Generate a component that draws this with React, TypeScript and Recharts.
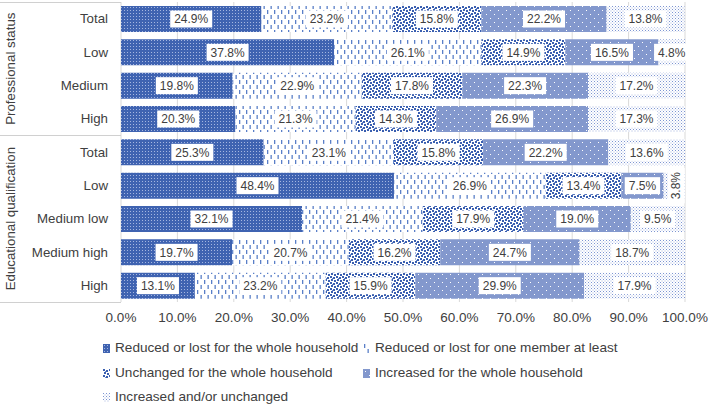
import React from 'react';
import { BarChart, Bar, XAxis, YAxis, CartesianGrid, LabelList, Legend } from 'recharts';

const categories = ['Total', 'Low', 'Medium', 'High', 'Total', 'Low', 'Medium low', 'Medium high', 'High'];
const groupNames = ['Professional status', 'Educational qualification'];
const groupSizes = [4, 5];

const reducedWhole = [24.9, 37.8, 19.8, 20.3, 25.3, 48.4, 32.1, 19.7, 13.1];
const reducedOne = [23.2, 26.1, 22.9, 21.3, 23.1, 26.9, 21.4, 20.7, 23.2];
const unchangedWhole = [15.8, 14.9, 17.8, 14.3, 15.8, 13.4, 17.9, 16.2, 15.9];
const increasedWhole = [22.2, 16.5, 22.3, 26.9, 22.2, 7.5, 19.0, 24.7, 29.9];
const increasedUnchanged = [13.8, 4.8, 17.2, 17.3, 13.6, 3.8, 9.5, 18.7, 17.9];

const seriesNames = [
  'Reduced or lost for the whole household',
  'Reduced or lost for one member at least',
  'Unchanged for the whole household',
  'Increased for the whole household',
  'Increased and/or unchanged',
];
const xTicks = [0, 10, 20, 30, 40, 50, 60, 70, 80, 90, 100];

const series = [reducedWhole, reducedOne, unchangedWhole, increasedWhole, increasedUnchanged];
const keys = ['s0', 's1', 's2', 's3', 's4'];
const patternIds = ['patA', 'patB', 'patC', 'patD', 'patE'];

const data = categories.map((c, i) => {
  const row: Record<string, any> = { id: `r${i}`, name: c };
  series.forEach((s, k) => (row[keys[k]] = s[i]));
  return row;
});

const FONT = '"Liberation Sans", Arial, Helvetica, sans-serif';
const TEXT = '#404040';
const LABEL_SIZE = 12;

// Arial-ish width estimate for the label boxes
const textWidth = (t: string, size: number) =>
  t.split('').reduce((w, ch) => w + (ch === '.' ? 0.278 : ch === '%' ? 0.889 : 0.556) * size, 0);

const SegmentLabel = (props: any) => {
  const vb = props.viewBox || {};
  const x = props.x ?? vb.x;
  const y = props.y ?? vb.y;
  const width = props.width ?? vb.width;
  const height = props.height ?? vb.height;
  const value = props.value;
  if (value == null || x == null) return null;
  const txt = `${Number(value).toFixed(1)}%`;
  const bw = textWidth(txt, LABEL_SIZE) + 8;
  const bh = 17;
  const rotated = width < 24;
  const cx = x + width / 2 + (rotated ? 2 : 0);
  const cy = y + height / 2;
  return (
    <g transform={rotated ? `rotate(-90, ${cx}, ${cy})` : undefined}>
      <rect x={cx - bw / 2} y={cy - bh / 2} width={bw} height={bh} fill="#fff" />
      <text x={cx} y={cy} dy="0.35em" textAnchor="middle" fontSize={LABEL_SIZE} fontFamily={FONT} fill={TEXT}>
        {txt}
      </text>
    </g>
  );
};

const CategoryTick = (props: any) => {
  const { x, y, index } = props;
  return (
    <text x={x - 5} y={y} dy="0.35em" textAnchor="end" fontSize={13.3} fontFamily={FONT} fill={TEXT}>
      {categories[index]}
    </text>
  );
};

const legendPos = [
  { x: 103, y: 12 },
  { x: 363, y: 12 },
  { x: 103, y: 37 },
  { x: 363, y: 37 },
  { x: 103, y: 61 },
];

const renderLegend = () => (
  <div style={{ position: 'relative', width: 709, height: 72, fontFamily: FONT, fontSize: 13.6, color: TEXT }}>
    {seriesNames.map((n, i) => (
      <div
        key={n}
        style={{
          position: 'absolute',
          left: legendPos[i].x,
          top: legendPos[i].y - 9,
          height: 18,
          lineHeight: '18px',
          whiteSpace: 'nowrap',
          display: 'flex',
          alignItems: 'center',
        }}
      >
        <svg width={8} height={9} style={{ marginRight: 4 }}>
          <rect x={0} y={0} width={7} height={9} fill={`url(#${patternIds[i]})`} />
        </svg>
        {n}
      </div>
    ))}
  </div>
);

const Patterns = () => (
  <svg width={0} height={0} style={{ position: 'absolute' }}>
    <defs>
      <pattern id="patA" width={3} height={3} patternUnits="userSpaceOnUse">
        <rect width={3} height={3} fill="#3f63b1" />
        <rect x={1} y={1} width={1} height={1} fill="#a5b6e0" />
      </pattern>
      <pattern id="patB" width={7} height={10} patternUnits="userSpaceOnUse">
        <rect width={7} height={10} fill="#fff" />
        <rect x={1} y={0} width={1.3} height={4} fill="#5a7fc8" />
        <rect x={4.5} y={5} width={1.3} height={4} fill="#5a7fc8" />
      </pattern>
      <pattern id="patC" width={6} height={6} patternUnits="userSpaceOnUse">
        <rect width={6} height={6} fill="#fff" />
        <rect x={0} y={0} width={2} height={2} fill="#3a5fb0" />
        <rect x={3} y={1} width={2} height={2} fill="#3a5fb0" />
        <rect x={1} y={3} width={2} height={2} fill="#3a5fb0" />
        <rect x={4} y={4} width={2} height={2} fill="#3a5fb0" />
        <rect x={2} y={2} width={1} height={1} fill="#6f8cca" />
      </pattern>
      <pattern id="patD" width={8} height={8} patternUnits="userSpaceOnUse">
        <rect width={8} height={8} fill="#8398cd" />
        <rect x={2} y={2} width={1} height={1} fill="#ffffff" />
        <rect x={6} y={6} width={1} height={1} fill="#ffffff" />
      </pattern>
      <pattern id="patE" width={3} height={3} patternUnits="userSpaceOnUse">
        <rect width={3} height={3} fill="#fff" />
        <rect x={0} y={0} width={1} height={1} fill="#7d95d2" />
        <rect x={1.5} y={1.5} width={1} height={1} fill="#a3b5e2" />
      </pattern>
    </defs>
  </svg>
);

// table-like frame and rotated group names on the left
const GroupFrame = () => {
  const top = 2;
  const band = 300 / categories.length;
  let acc = 0;
  return (
    <svg width={709} height={310} style={{ position: 'absolute', left: 0, top: 0, pointerEvents: 'none' }}>
      <line x1={0} x2={121} y1={top + 0.5} y2={top + 0.5} stroke="#d0d0d0" />
      {groupSizes.map((g, i) => {
        const y0 = top + acc * band;
        acc += g;
        const y1 = top + acc * band;
        const cy = (y0 + y1) / 2;
        return (
          <g key={groupNames[i]}>
            <line x1={0} x2={121} y1={Math.round(y1) + 0.5} y2={Math.round(y1) + 0.5} stroke="#d0d0d0" />
            <text
              x={10}
              y={cy}
              transform={`rotate(-90, 10, ${cy})`}
              dy="0.35em"
              textAnchor="middle"
              fontSize={13.3}
              fontFamily={FONT}
              fill={TEXT}
            >
              {groupNames[i]}
            </text>
          </g>
        );
      })}
    </svg>
  );
};

export default function App() {
  return (
    <div style={{ position: 'absolute', left: 0, top: 0, width: 709, height: 408, background: '#fff' }}>
      <Patterns />
      <BarChart
        layout="vertical"
        width={709}
        height={408}
        data={data}
        margin={{ top: 2, right: 24, bottom: 78, left: 0 }}
        barSize={26}
      >
        <CartesianGrid horizontal={false} stroke="#d9d9d9" />
        <XAxis
          type="number"
          domain={[0, 100]}
          allowDataOverflow
          ticks={xTicks}
          tickFormatter={(v: number) => `${v.toFixed(1)}%`}
          axisLine={false}
          tickLine={false}
          tickMargin={4}
          height={28}
          tick={{ fontSize: 13.5, fontFamily: FONT, fill: TEXT }}
          interval={0}
        />
        <YAxis type="category" dataKey="id" width={121} axisLine={false} tickLine={false} tick={<CategoryTick />} interval={0} />
        {keys.map((k, i) => (
          <Bar key={k} dataKey={k} name={seriesNames[i]} stackId="a" fill={`url(#${patternIds[i]})`} isAnimationActive={false}>
            <LabelList dataKey={k} content={<SegmentLabel />} />
          </Bar>
        ))}
        <Legend
          layout="vertical"
          verticalAlign="middle"
          align="center"
          content={renderLegend}
          wrapperStyle={{ left: 0, top: 336, width: 709, height: 72 }}
        />
      </BarChart>
      <GroupFrame />
    </div>
  );
}
